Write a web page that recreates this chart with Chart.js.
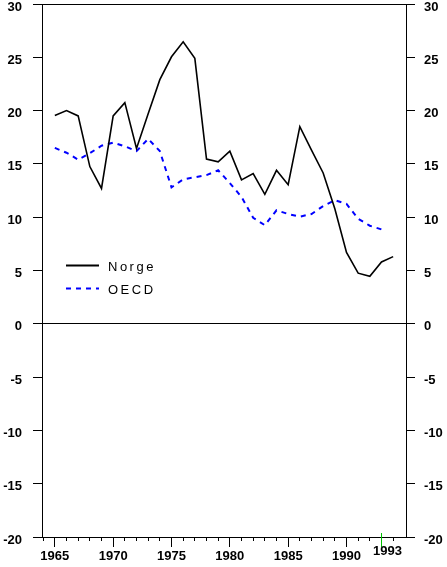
<!DOCTYPE html>
<html>
<head>
<meta charset="utf-8">
<script src="https://cdn.jsdelivr.net/npm/chart.js@4.4.1/dist/chart.umd.min.js"></script>
<style>
  html, body { margin: 0; padding: 0; background: #fff; }
  #wrap { width: 447px; height: 567px; }
</style>
</head>
<body>
<div id="wrap"><canvas id="chart"></canvas></div>
<script>
const YEARS = [
  1965, 1966, 1967, 1968, 1969, 1970, 1971, 1972, 1973, 1974,
  1975, 1976, 1977, 1978, 1979, 1980, 1981, 1982, 1983, 1984,
  1985, 1986, 1987, 1988, 1989, 1990, 1991, 1992, 1993, 1994
];

const NORGE = [
  19.55, 20.0, 19.5, 14.75, 12.7, 19.5, 20.75, 16.45, 19.7, 22.9,
  25.05, 26.45, 24.9, 15.45, 15.2, 16.2, 13.5, 14.1, 12.15, 14.4,
  13.05, 18.5, 16.3, 14.15, 10.8, 6.7, 4.75, 4.45, 5.8, 6.3
];

// OECD series stops at 1993
const OECD = [
  16.5, 16.05, 15.4, 16.0, 16.7, 17.0, 16.65, 16.2, 17.35, 16.2,
  12.8, 13.55, 13.75, 13.95, 14.4, 13.2, 11.9, 9.95, 9.25, 10.65,
  10.3, 10.05, 10.3, 11.05, 11.6, 11.25, 9.85, 9.2, 8.85
];

const Y_TICKS = [30, 25, 20, 15, 10, 5, 0, -5, -10, -15, -20];
const Y_RULES = [30, 0, -20];
const X_LABEL_YEARS = [1965, 1970, 1975, 1980, 1985, 1990];
const MARK_YEAR = 1993;

const FONT = "'Liberation Sans', Arial, sans-serif";
const X_MIN = 1963.9;
const X_MAX = 1995.1;


function yAxis(position, width, pad) {
  return {
    position: position,
    min: -20,
    max: 30,
    afterBuildTicks: s => { s.ticks = Y_TICKS.map(v => ({ value: v })); },
    border: { display: true, color: "#000", width: 1 },
    grid: {
      drawOnChartArea: position === "left",
      color: ctx => Y_RULES.includes(ctx.tick && ctx.tick.value) ? "#000" : "rgba(0,0,0,0)",
      tickColor: "#000",
      tickLength: 9,
      lineWidth: 1
    },
    ticks: {
      color: "#000",
      padding: pad,
      labelOffset: 3,
      font: { family: FONT, size: 13, weight: "bold", lineHeight: 1 }
    },
    afterFit: s => {
      s.width = width;
      s.paddingTop = 0;
      s.paddingBottom = 0;
    }
  };
}


// small plugin: legend box inside the plot + the green 1993 marker
const extras = {
  id: "extras",
  afterDraw(chart) {
    const ctx = chart.ctx;
    const area = chart.chartArea;
    const x = chart.scales.x;

    ctx.save();
    ctx.font = `13px ${FONT}`;
    ctx.letterSpacing = "2.5px";
    ctx.textBaseline = "middle";
    ctx.textAlign = "left";
    chart.data.datasets.forEach((ds, i) => {
      const y = area.top + 261.5 + i * 23;
      ctx.strokeStyle = ds.borderColor;
      ctx.lineWidth = 2;
      ctx.setLineDash(ds.borderDash || []);
      ctx.beginPath();
      ctx.moveTo(area.left + 24, y);
      ctx.lineTo(area.left + 57, y);
      ctx.stroke();
      ctx.setLineDash([]);
      ctx.fillStyle = "#000";
      ctx.fillText(ds.label, area.left + 66, y + 2);
    });
    ctx.restore();

    const mx = Math.round(x.getPixelForValue(MARK_YEAR)) - 0.5;
    ctx.save();
    ctx.strokeStyle = "#00c000";
    ctx.lineWidth = 1;
    ctx.beginPath();
    ctx.moveTo(mx, area.bottom - 4);
    ctx.lineTo(mx, area.bottom + 10);
    ctx.stroke();
    ctx.font = `bold 13px ${FONT}`;
    ctx.fillStyle = "#000";
    ctx.textAlign = "center";
    ctx.textBaseline = "middle";
    ctx.fillText(String(MARK_YEAR), mx + 6, area.bottom + 14);
    ctx.restore();
  }
};


new Chart(document.getElementById("chart"), {
  type: "line",
  data: {
    datasets: [
      {
        label: "Norge",
        data: YEARS.map((yr, i) => ({ x: yr, y: NORGE[i] })),
        borderColor: "#000000",
        borderWidth: 1.6,
        pointRadius: 0,
        tension: 0,
        fill: false
      },
      {
        label: "OECD",
        data: OECD.map((v, i) => ({ x: YEARS[i], y: v })),
        borderColor: "#0000ff",
        borderWidth: 2,
        borderDash: [5, 5],
        pointRadius: 0,
        tension: 0,
        fill: false
      }
    ]
  },
  options: {
    responsive: true,
    maintainAspectRatio: false,
    animation: false,
    layout: { padding: { top: 4, left: 0, right: 0, bottom: 0 } },
    plugins: {
      legend: { display: false },
      tooltip: { enabled: false }
    },
    scales: {
      x: {
        type: "linear",
        position: "bottom",
        weight: 1,
        min: X_MIN,
        max: X_MAX,
        afterBuildTicks: s => { s.ticks = X_LABEL_YEARS.map(v => ({ value: v })); },
        border: { display: true, color: "#000", width: 1 },
        grid: {
          drawOnChartArea: false,
          tickColor: "#000",
          tickLength: 10
        },
        ticks: {
          color: "#000",
          padding: 3,
          maxRotation: 0,
          callback: v => String(v),
          font: { family: FONT, size: 13, weight: "bold", lineHeight: 1 }
        },
        afterFit: s => {
          s.height = 30;
          s.paddingLeft = 0;
          s.paddingRight = 0;
        }
      },
      xMinor: {
        type: "linear",
        position: "bottom",
        weight: 0,
        min: X_MIN,
        max: X_MAX,
        afterBuildTicks: s => {
          s.ticks = [];
          for (let yr = 1964; yr <= 1995; yr++) {
            if (yr % 5 !== 0) s.ticks.push({ value: yr });
          }
        },
        border: { display: false },
        grid: {
          drawOnChartArea: false,
          tickColor: "#000",
          tickLength: 4
        },
        ticks: { display: false },
        afterFit: s => {
          s.height = 0;
          s.paddingLeft = 0;
          s.paddingRight = 0;
        }
      },
      y: yAxis("left", 42, 11),
      yRight: yAxis("right", 41, 9)
    }
  },
  plugins: [extras]
});
</script>
</body>
</html>
